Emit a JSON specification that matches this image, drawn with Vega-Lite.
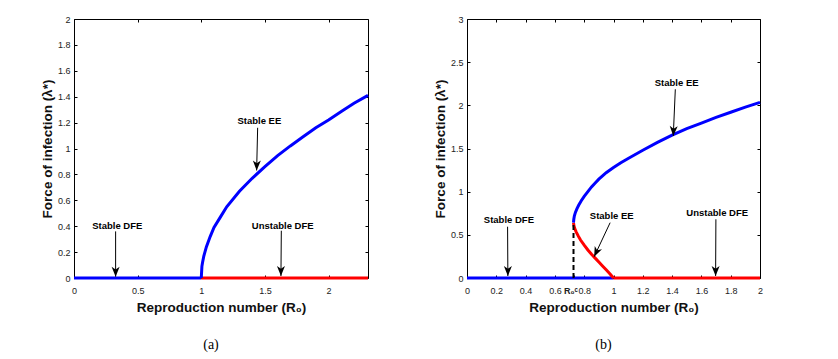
{
  "$schema": "https://vega.github.io/schema/vega-lite/v6.json",
  "padding": {"left": 39, "top": 14, "right": 5, "bottom": 5},
  "spacing": 99,
  "bounds": "flush",
  "config": {
    "view": {"stroke": "#000000", "strokeWidth": 1},
    "axis": {
      "domain": false,
      "grid": false,
      "tickSize": -3,
      "tickColor": "#000000",
      "tickWidth": 1,
      "labelFont": "Liberation Sans",
      "labelFontSize": 9,
      "labelColor": "#222222",
      "labelPadding": 7,
      "labelFlush": false,
      "labelOverlap": false,
      "titleFont": "Liberation Sans",
      "titleFontSize": 13.5,
      "titleFontWeight": "bold",
      "titleColor": "#111111"
    },
    "axisX": {"labelPadding": 11},
    "title": {"font": "Liberation Serif", "fontSize": 14, "fontWeight": "normal", "color": "#000000"}
  },
  "datasets": {
    "linesA": [
      {"x": 0, "y": 0, "s": "z", "c": "b"},
      {"x": 1, "y": 0, "s": "z", "c": "b"},
      {"x": 1, "y": 0, "s": "r", "c": "r"},
      {"x": 2.31, "y": 0, "s": "r", "c": "r"},
      {"x": 1, "y": 0, "s": "u", "c": "b"},
      {"x": 1.005, "y": 0.09, "s": "u", "c": "b"},
      {"x": 1.01, "y": 0.12, "s": "u", "c": "b"},
      {"x": 1.02, "y": 0.17, "s": "u", "c": "b"},
      {"x": 1.04, "y": 0.24, "s": "u", "c": "b"},
      {"x": 1.07, "y": 0.32, "s": "u", "c": "b"},
      {"x": 1.1, "y": 0.39, "s": "u", "c": "b"},
      {"x": 1.15, "y": 0.47, "s": "u", "c": "b"},
      {"x": 1.2, "y": 0.55, "s": "u", "c": "b"},
      {"x": 1.3, "y": 0.67, "s": "u", "c": "b"},
      {"x": 1.4, "y": 0.77, "s": "u", "c": "b"},
      {"x": 1.5, "y": 0.86, "s": "u", "c": "b"},
      {"x": 1.6, "y": 0.945, "s": "u", "c": "b"},
      {"x": 1.7, "y": 1.02, "s": "u", "c": "b"},
      {"x": 1.8, "y": 1.09, "s": "u", "c": "b"},
      {"x": 1.9, "y": 1.16, "s": "u", "c": "b"},
      {"x": 2.0, "y": 1.22, "s": "u", "c": "b"},
      {"x": 2.1, "y": 1.285, "s": "u", "c": "b"},
      {"x": 2.2, "y": 1.35, "s": "u", "c": "b"},
      {"x": 2.31, "y": 1.41, "s": "u", "c": "b"}
    ],
    "arrowsA": [
      {"x": 0.327, "y": 0.36, "x2": 0.327, "y2": 0.01, "a": 0},
      {"x": 1.443, "y": 1.16, "x2": 1.435, "y2": 0.83, "a": 1.3},
      {"x": 1.629, "y": 0.365, "x2": 1.626, "y2": 0.015, "a": 0}
    ],
    "labelsA": [
      {"x": 0.34, "y": 0.4, "t": "Stable DFE"},
      {"x": 1.456, "y": 1.21, "t": "Stable EE"},
      {"x": 1.64, "y": 0.404, "t": "Unstable DFE"}
    ],
    "linesB": [
      {"x": 0, "y": 0, "s": "z", "c": "b"},
      {"x": 1, "y": 0, "s": "z", "c": "b"},
      {"x": 1, "y": 0, "s": "r", "c": "r"},
      {"x": 2, "y": 0, "s": "r", "c": "r"},
      {"x": 0.727, "y": 0.64, "s": "l", "c": "r"},
      {"x": 0.73, "y": 0.605, "s": "l", "c": "r"},
      {"x": 0.735, "y": 0.575, "s": "l", "c": "r"},
      {"x": 0.745, "y": 0.535, "s": "l", "c": "r"},
      {"x": 0.76, "y": 0.485, "s": "l", "c": "r"},
      {"x": 0.775, "y": 0.44, "s": "l", "c": "r"},
      {"x": 0.8, "y": 0.38, "s": "l", "c": "r"},
      {"x": 0.825, "y": 0.325, "s": "l", "c": "r"},
      {"x": 0.85, "y": 0.275, "s": "l", "c": "r"},
      {"x": 0.875, "y": 0.23, "s": "l", "c": "r"},
      {"x": 0.9, "y": 0.185, "s": "l", "c": "r"},
      {"x": 0.925, "y": 0.14, "s": "l", "c": "r"},
      {"x": 0.95, "y": 0.095, "s": "l", "c": "r"},
      {"x": 0.975, "y": 0.048, "s": "l", "c": "r"},
      {"x": 1.0, "y": 0.0, "s": "l", "c": "r"},
      {"x": 0.727, "y": 0.64, "s": "u", "c": "b"},
      {"x": 0.729, "y": 0.68, "s": "u", "c": "b"},
      {"x": 0.733, "y": 0.72, "s": "u", "c": "b"},
      {"x": 0.74, "y": 0.76, "s": "u", "c": "b"},
      {"x": 0.75, "y": 0.8, "s": "u", "c": "b"},
      {"x": 0.763, "y": 0.845, "s": "u", "c": "b"},
      {"x": 0.78, "y": 0.895, "s": "u", "c": "b"},
      {"x": 0.8, "y": 0.945, "s": "u", "c": "b"},
      {"x": 0.825, "y": 1.0, "s": "u", "c": "b"},
      {"x": 0.85, "y": 1.055, "s": "u", "c": "b"},
      {"x": 0.875, "y": 1.1, "s": "u", "c": "b"},
      {"x": 0.9, "y": 1.145, "s": "u", "c": "b"},
      {"x": 0.95, "y": 1.22, "s": "u", "c": "b"},
      {"x": 1.0, "y": 1.28, "s": "u", "c": "b"},
      {"x": 1.05, "y": 1.335, "s": "u", "c": "b"},
      {"x": 1.1, "y": 1.385, "s": "u", "c": "b"},
      {"x": 1.2, "y": 1.48, "s": "u", "c": "b"},
      {"x": 1.3, "y": 1.57, "s": "u", "c": "b"},
      {"x": 1.4, "y": 1.655, "s": "u", "c": "b"},
      {"x": 1.5, "y": 1.73, "s": "u", "c": "b"},
      {"x": 1.6, "y": 1.795, "s": "u", "c": "b"},
      {"x": 1.7, "y": 1.86, "s": "u", "c": "b"},
      {"x": 1.8, "y": 1.92, "s": "u", "c": "b"},
      {"x": 1.9, "y": 1.98, "s": "u", "c": "b"},
      {"x": 2.0, "y": 2.035, "s": "u", "c": "b"}
    ],
    "dashB": [
      {"x": 0.727, "y": 0, "y2": 0.64}
    ],
    "arrowsB": [
      {"x": 0.277, "y": 0.594, "x2": 0.279, "y2": 0.023, "a": 0},
      {"x": 1.422, "y": 2.186, "x2": 1.408, "y2": 1.645, "a": 2.5},
      {"x": 0.977, "y": 0.641, "x2": 0.868, "y2": 0.247, "a": 25},
      {"x": 1.699, "y": 0.68, "x2": 1.697, "y2": 0.023, "a": 0}
    ],
    "labelsB": [
      {"x": 0.286, "y": 0.668, "t": "Stable DFE"},
      {"x": 1.431, "y": 2.256, "t": "Stable EE"},
      {"x": 0.988, "y": 0.715, "t": "Stable EE"},
      {"x": 1.708, "y": 0.75, "t": "Unstable DFE"}
    ]
  },
  "hconcat": [
    {
      "width": 294,
      "height": 259,
      "title": {"text": "(a)", "orient": "bottom", "offset": 24, "dx": -10},
      "resolve": {"axis": {"x": "independent", "y": "independent"}},
      "layer": [
        {
          "data": {"name": "linesA"},
          "mark": {"type": "line", "strokeWidth": 3, "strokeCap": "butt"},
          "encoding": {
            "x": {"field": "x", "type": "quantitative", "scale": {"domain": [0, 2.31], "nice": false, "zero": false},
                  "axis": {"values": [0, 0.5, 1, 1.5, 2], "format": "~g", "title": "Reproduction number (R₀)", "titlePadding": 5}},
            "y": {"field": "y", "type": "quantitative", "scale": {"domain": [0, 2], "nice": false},
                  "axis": {"values": [0, 0.2, 0.4, 0.6, 0.8, 1, 1.2, 1.4, 1.6, 1.8, 2], "format": "~g", "title": "Force of infection (λ*)", "titlePadding": 3}},
            "color": {"field": "c", "type": "nominal", "scale": {"domain": ["b", "r"], "range": ["#0000ff", "#ff0000"]}, "legend": null},
            "detail": {"field": "s"}
          }
        },
        {
          "data": {"name": "arrowsA"},
          "mark": {"type": "rule", "color": "#000000", "strokeWidth": 1},
          "encoding": {
            "x": {"field": "x", "type": "quantitative", "scale": {"domain": [0, 2.31], "nice": false, "zero": false},
                  "axis": {"orient": "top", "values": [0, 0.5, 1, 1.5, 2], "labels": false, "title": null}},
            "y": {"field": "y", "type": "quantitative", "scale": {"domain": [0, 2], "nice": false},
                  "axis": {"orient": "right", "values": [0, 0.2, 0.4, 0.6, 0.8, 1, 1.2, 1.4, 1.6, 1.8, 2], "labels": false, "title": null}},
            "x2": {"field": "x2"},
            "y2": {"field": "y2"}
          }
        },
        {
          "data": {"name": "arrowsA"},
          "mark": {"type": "point", "shape": "M0,0L-0.4,-1L0,-0.72L0.4,-1Z", "size": 400, "filled": true, "color": "#000000", "opacity": 1, "strokeWidth": 0},
          "encoding": {
            "x": {"field": "x2", "type": "quantitative", "axis": null},
            "y": {"field": "y2", "type": "quantitative", "axis": null},
            "angle": {"field": "a", "type": "quantitative", "scale": null}
          }
        },
        {
          "data": {"name": "labelsA"},
          "mark": {"type": "text", "font": "Liberation Sans", "fontSize": 9.5, "fontWeight": "bold", "color": "#000000", "baseline": "middle", "align": "center"},
          "encoding": {
            "x": {"field": "x", "type": "quantitative", "axis": null},
            "y": {"field": "y", "type": "quantitative", "axis": null},
            "text": {"field": "t"}
          }
        }
      ]
    },
    {
      "width": 293,
      "height": 259,
      "title": {"text": "(b)", "orient": "bottom", "offset": 24, "dx": -10},
      "resolve": {"axis": {"x": "independent", "y": "independent"}},
      "layer": [
        {
          "data": {"name": "linesB"},
          "mark": {"type": "line", "strokeWidth": 3, "strokeCap": "butt"},
          "encoding": {
            "x": {"field": "x", "type": "quantitative", "scale": {"domain": [0, 2], "nice": false, "zero": false},
                  "axis": {"values": [0, 0.2, 0.4, 0.6, 0.727, 0.8, 1, 1.2, 1.4, 1.6, 1.8, 2],
                           "labelExpr": "datum.value == 0.727 ? 'R₀ᶜ' : format(datum.value, '~g')",
                           "labelFontWeight": {"condition": {"test": "datum.value == 0.727", "value": "bold"}, "value": "normal"},
                           "labelOffset": {"condition": {"test": "datum.value == 0.727", "value": -3}, "value": 0},
                           "title": "Reproduction number (R₀)", "titlePadding": 5}},
            "y": {"field": "y", "type": "quantitative", "scale": {"domain": [0, 3], "nice": false},
                  "axis": {"values": [0, 0.5, 1, 1.5, 2, 2.5, 3], "format": "~g", "title": "Force of infection (λ*)", "titlePadding": 3}},
            "color": {"field": "c", "type": "nominal", "scale": {"domain": ["b", "r"], "range": ["#0000ff", "#ff0000"]}, "legend": null},
            "detail": {"field": "s"}
          }
        },
        {
          "data": {"name": "dashB"},
          "mark": {"type": "rule", "color": "#000000", "strokeWidth": 2, "strokeDash": [5, 3]},
          "encoding": {
            "x": {"field": "x", "type": "quantitative", "axis": null},
            "y": {"field": "y", "type": "quantitative", "axis": null},
            "y2": {"field": "y2"}
          }
        },
        {
          "data": {"name": "arrowsB"},
          "mark": {"type": "rule", "color": "#000000", "strokeWidth": 1},
          "encoding": {
            "x": {"field": "x", "type": "quantitative", "scale": {"domain": [0, 2], "nice": false, "zero": false},
                  "axis": {"orient": "top", "values": [0, 0.2, 0.4, 0.6, 0.8, 1, 1.2, 1.4, 1.6, 1.8, 2], "labels": false, "title": null}},
            "y": {"field": "y", "type": "quantitative", "scale": {"domain": [0, 3], "nice": false},
                  "axis": {"orient": "right", "values": [0, 0.5, 1, 1.5, 2, 2.5, 3], "labels": false, "title": null}},
            "x2": {"field": "x2"},
            "y2": {"field": "y2"}
          }
        },
        {
          "data": {"name": "arrowsB"},
          "mark": {"type": "point", "shape": "M0,0L-0.4,-1L0,-0.72L0.4,-1Z", "size": 400, "filled": true, "color": "#000000", "opacity": 1, "strokeWidth": 0},
          "encoding": {
            "x": {"field": "x2", "type": "quantitative", "axis": null},
            "y": {"field": "y2", "type": "quantitative", "axis": null},
            "angle": {"field": "a", "type": "quantitative", "scale": null}
          }
        },
        {
          "data": {"name": "labelsB"},
          "mark": {"type": "text", "font": "Liberation Sans", "fontSize": 9.5, "fontWeight": "bold", "color": "#000000", "baseline": "middle", "align": "center"},
          "encoding": {
            "x": {"field": "x", "type": "quantitative", "axis": null},
            "y": {"field": "y", "type": "quantitative", "axis": null},
            "text": {"field": "t"}
          }
        }
      ]
    }
  ]
}
